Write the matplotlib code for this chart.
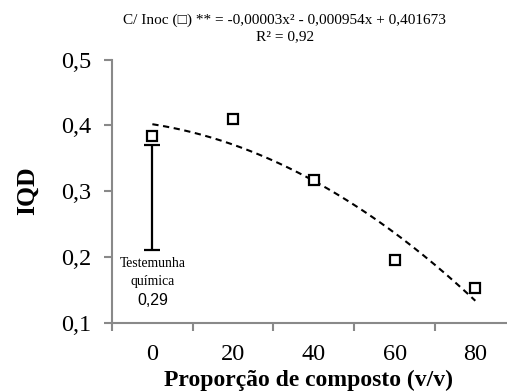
import numpy as np
import matplotlib
matplotlib.use("Agg")
import matplotlib.pyplot as plt
from matplotlib.ticker import FixedLocator, NullFormatter, FixedFormatter

# data
proportion = [0, 20, 40, 60, 80]
iqd = [0.383, 0.410, 0.317, 0.195, 0.152]
coef = [-0.00003, -0.000954, 0.401673]  # fitted quadratic shown in the title
control_x = 0
control_mean = 0.29
control_low, control_high = 0.21, 0.37
tick_labels = ["0", "20", "40", "60", "80"]
y_ticks = [0.1, 0.2, 0.3, 0.4, 0.5]

plt.rcParams["font.family"] = ["Liberation Serif", "DejaVu Serif"]
AXIS_GRAY = "#898989"

fig = plt.figure(figsize=(5.07, 3.91), dpi=100)
ax = fig.add_axes([0.2209, 0.1747, 0.7771, 0.6731])

# trend line
xs = np.linspace(0, 80, 200)
ax.plot(xs, np.polyval(coef, xs), color="black", linestyle=(0, (3, 2.2)), linewidth=1.5)

# observed points
ax.plot(proportion, iqd, linestyle="none", marker="s", markersize=6.5,
        markerfacecolor="white", markeredgecolor="black", markeredgewidth=1.6)

# chemical control bar
ax.errorbar([control_x], [control_mean],
            yerr=[[control_mean - control_low], [control_high - control_mean]],
            fmt="none", ecolor="black", elinewidth=1.6, capsize=5.5, capthick=1.6)
ax.text(control_x, 0.2, "Testemunha\nquímica", ha="center", va="top",
        fontsize=9.8, linespacing=1.5)
ax.text(control_x, 0.134, "0,29", ha="center", va="center", fontsize=11.5,
        family=["Liberation Sans", "DejaVu Sans"])

ax.set_xlim(-10, 87.6)
ax.set_ylim(0.1, 0.5)

ax.xaxis.set_major_locator(FixedLocator([-10, 10, 30, 50, 70]))
ax.xaxis.set_major_formatter(NullFormatter())
ax.xaxis.set_minor_locator(FixedLocator(proportion))
ax.xaxis.set_minor_formatter(FixedFormatter(tick_labels))
ax.tick_params(axis="x", which="major", length=6, width=1.5, color=AXIS_GRAY, direction="out")
ax.tick_params(axis="x", which="minor", length=0, labelsize=17.5, pad=15)

ax.set_yticks(y_ticks)
ax.set_yticklabels([f"{v:.1f}".replace(".", ",") for v in y_ticks])
ax.tick_params(axis="y", length=6, width=1.5, color=AXIS_GRAY, labelsize=17.5, pad=9)

for side in ["top", "right"]:
    ax.spines[side].set_visible(False)
for side in ["left", "bottom"]:
    ax.spines[side].set_color(AXIS_GRAY)
    ax.spines[side].set_linewidth(1.5)

ax.set_xlabel("Proporção de composto (v/v)", fontsize=17, fontweight="bold")
ax.xaxis.set_label_coords(0.5, -0.18)
ax.set_ylabel("IQD", fontsize=18.5, fontweight="bold", labelpad=16)

fig.text(0.562, 0.965, "C/ Inoc (\u25a1) ** = -0,00003x² - 0,000954x + 0,401673\nR² = 0,92",
         ha="center", va="top", fontsize=11, linespacing=1.3,
         family=["Liberation Serif", "DejaVu Sans"])

fig.savefig("out.png", dpi=100)
